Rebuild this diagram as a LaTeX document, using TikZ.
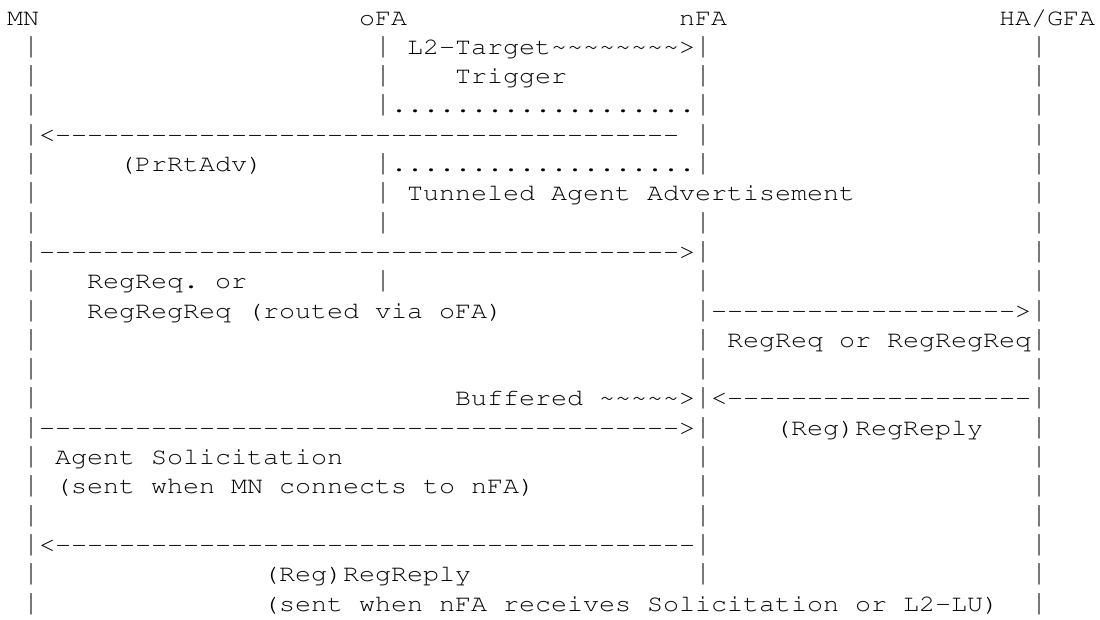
\documentclass[tikz,border=0pt]{standalone}
\usepackage[T1]{fontenc}
\usepackage{courier}
\usepackage{graphicx}

\newcommand{\dashes}[1]{\foreach \k in {1,...,#1}{-}}
\newcommand{\tildes}[1]{\foreach \k in {1,...,#1}{\textasciitilde}}
\newcommand{\dotrun}[1]{\foreach \k in {1,...,#1}{.}}
\newcommand{\vbar}{\scalebox{1}[1.27]{|}}
% one piece of text at column #2, line #3
\newcommand{\txt}[4]{\node[ascii] (#1) at ({7+16*#2},{25+29.3*#3}) {\scalebox{1.13}[1]{#4}};}

\begin{document}
\begin{tikzpicture}[x=1pt,y=-1pt]
\tikzstyle{ascii}=[inner sep=0pt, anchor=base west, font=\ttfamily\fontsize{23.6}{28}\selectfont\frenchspacing]
\fill[white] (0,0) rectangle (1100,619);
\useasboundingbox (0,0) rectangle (1100,619);
% heads
\txt{mn}{0}{0}{MN}
\txt{ofa}{22}{0}{oFA}
\txt{nfa}{42}{0}{nFA}
\txt{ha}{62}{0}{HA/GFA}
% life lines
\foreach \r in {1,...,20} {\txt{mnbar\r}{1}{\r}{\vbar}}
\foreach \r in {1,2,3,5,6,7,9} {\txt{ofabar\r}{23}{\r}{\vbar}}
\foreach \r in {1,2,3,4,5,7,8,9,10,11,12,13,14,15,16,17,18,19} {\txt{nfabar\r}{43}{\r}{\vbar}}
\foreach \r in {1,...,20} {\txt{habar\r}{64}{\r}{\vbar}}
% messages
\txt{trig}{25}{1}{L2-Target\tildes{8}>}
\txt{triglbl}{28}{2}{Trigger}
\txt{dotsa}{24}{3}{\dotrun{19}}
\txt{prrt}{2}{4}{<\dashes{39}}
\txt{prrtlbl}{7}{5}{(PrRtAdv)}
\txt{dotsb}{24}{5}{\dotrun{19}}
\txt{tunlbl}{25}{6}{Tunneled Agent Advertisement}
\txt{regreq}{2}{8}{\dashes{40}>}
\txt{regreqlbl}{5}{9}{RegReq. or}
\txt{regreqlblb}{5}{10}{RegRegReq (routed via oFA)}
\txt{fwd}{44}{10}{\dashes{19}>}
\txt{fwdlbl}{45}{11}{RegReq or RegRegReq}
\txt{buf}{28}{13}{Buffered \tildes{5}>}
\txt{reply}{44}{13}{<\dashes{19}}
\txt{sol}{2}{14}{\dashes{40}>}
\txt{replylbl}{48}{14}{(Reg)RegReply}
\txt{sollbl}{3}{15}{Agent Solicitation}
\txt{sollblb}{3}{16}{(sent when MN connects to nFA)}
\txt{adv}{2}{18}{<\dashes{40}}
\txt{advlbl}{16}{19}{(Reg)RegReply}
\txt{advlblb}{16}{20}{(sent when nFA receives Solicitation or L2-LU)}
\end{tikzpicture}
\end{document}
